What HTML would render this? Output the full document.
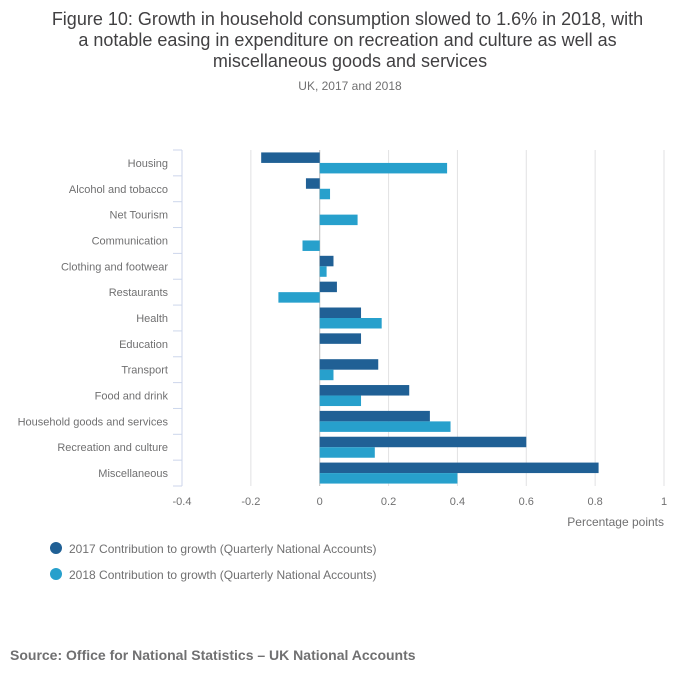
<!DOCTYPE html>
<html><head><meta charset="utf-8"><style>
body{margin:0;background:#fff;font-family:"Liberation Sans",sans-serif;}
#wrap{position:relative;width:700px;height:682px;overflow:hidden}
</style></head><body>
<div id="wrap">
<svg id="chart" width="700" height="682">
<text x="350" y="25" text-anchor="middle" font-size="18" fill="#414042">
<tspan x="350" y="25">Figure 10: Growth in household consumption slowed to 1.6% in 2018, with</tspan>
<tspan x="350" y="46">a notable easing in expenditure on recreation and culture as well as</tspan>
<tspan x="350" y="67">miscellaneous goods and services</tspan></text>
<text x="350" y="90" text-anchor="middle" font-size="12" fill="#707071">UK, 2017 and 2018</text>
<g id="grid"></g><g id="bars"></g><g id="axes"></g>
<text x="664" y="526" text-anchor="end" font-size="12" fill="#707071">Percentage points</text>
<g><circle cx="56" cy="548" r="6" fill="#206095"/><text x="69" y="553" font-size="12" fill="#707071">2017 Contribution to growth (Quarterly National Accounts)</text></g>
<g><circle cx="56" cy="574" r="6" fill="#27a0cc"/><text x="69" y="579" font-size="12" fill="#707071">2018 Contribution to growth (Quarterly National Accounts)</text></g>
<text x="10" y="660" font-size="14" font-weight="bold" fill="#707071">Source: Office for National Statistics – UK National Accounts</text>
</svg></div>
<script>
const categories=["Housing","Alcohol and tobacco","Net Tourism","Communication","Clothing and footwear","Restaurants","Health","Education","Transport","Food and drink","Household goods and services","Recreation and culture","Miscellaneous"];
const values2017=[-0.17,-0.04,null,null,0.04,0.05,0.12,0.12,0.17,0.26,0.32,0.6,0.81];
const values2018=[0.37,0.03,0.11,-0.05,0.02,-0.12,0.18,null,0.04,0.12,0.38,0.16,0.4];
const xTicks=[-0.4,-0.2,0,0.2,0.4,0.6,0.8,1];
const tickLabels=["-0.4","-0.2","0","0.2","0.4","0.6","0.8","1"];
const NS="http://www.w3.org/2000/svg";
const x0=182,x1=664,vmin=-0.4,vmax=1,plotTop=150,plotBottom=486;
const rowH=(plotBottom-plotTop)/categories.length;
const xs=v=>x0+(v-vmin)/(vmax-vmin)*(x1-x0);
function mk(t,a,p){const e=document.createElementNS(NS,t);for(const k in a)e.setAttribute(k,a[k]);p.appendChild(e);return e;}
const grid=document.getElementById('grid'),bars=document.getElementById('bars'),axes=document.getElementById('axes');
xTicks.forEach((t,i)=>{
 const g=mk('line',{x1:xs(t),x2:xs(t),y1:plotTop,y2:plotBottom,stroke:t===0?'#bbb':'#e2e2e3','stroke-width':1},grid);
 
 
 const l=mk('text',{x:xs(t),y:505,'text-anchor':'middle','font-size':11,fill:'#707071'},axes);
 l.textContent=tickLabels[i];
 
 
});
const ax=mk('line',{x1:x0,x2:x0,y1:plotTop,y2:plotBottom,stroke:'#ccd6eb'},axes);


for(let i=0;i<=categories.length;i++){const y=plotTop+i*rowH;mk('line',{x1:173,x2:x0,y1:y,y2:y,stroke:'#ccd6eb'},axes);}
const bh=10.5;
categories.forEach((c,i)=>{
 const cy=plotTop+(i+0.5)*rowH;
 const t=mk('text',{x:168,y:cy+4,'text-anchor':'end','font-size':11,fill:'#707071'},axes);
 t.textContent=c;
 
 
 [[values2017,'#206095',cy-bh,'bar-2017'],[values2018,'#27a0cc',cy,'bar-2018']].forEach(([arr,col,y,n])=>{
  const v=arr[i]; if(v===null)return;
  const a=xs(Math.min(0,v)),b=xs(Math.max(0,v));
  const r=mk('rect',{x:a,y:y,width:Math.max(b-a,0.5),height:bh,fill:col},bars);
  
  
 });
});
</script>
</body></html>
